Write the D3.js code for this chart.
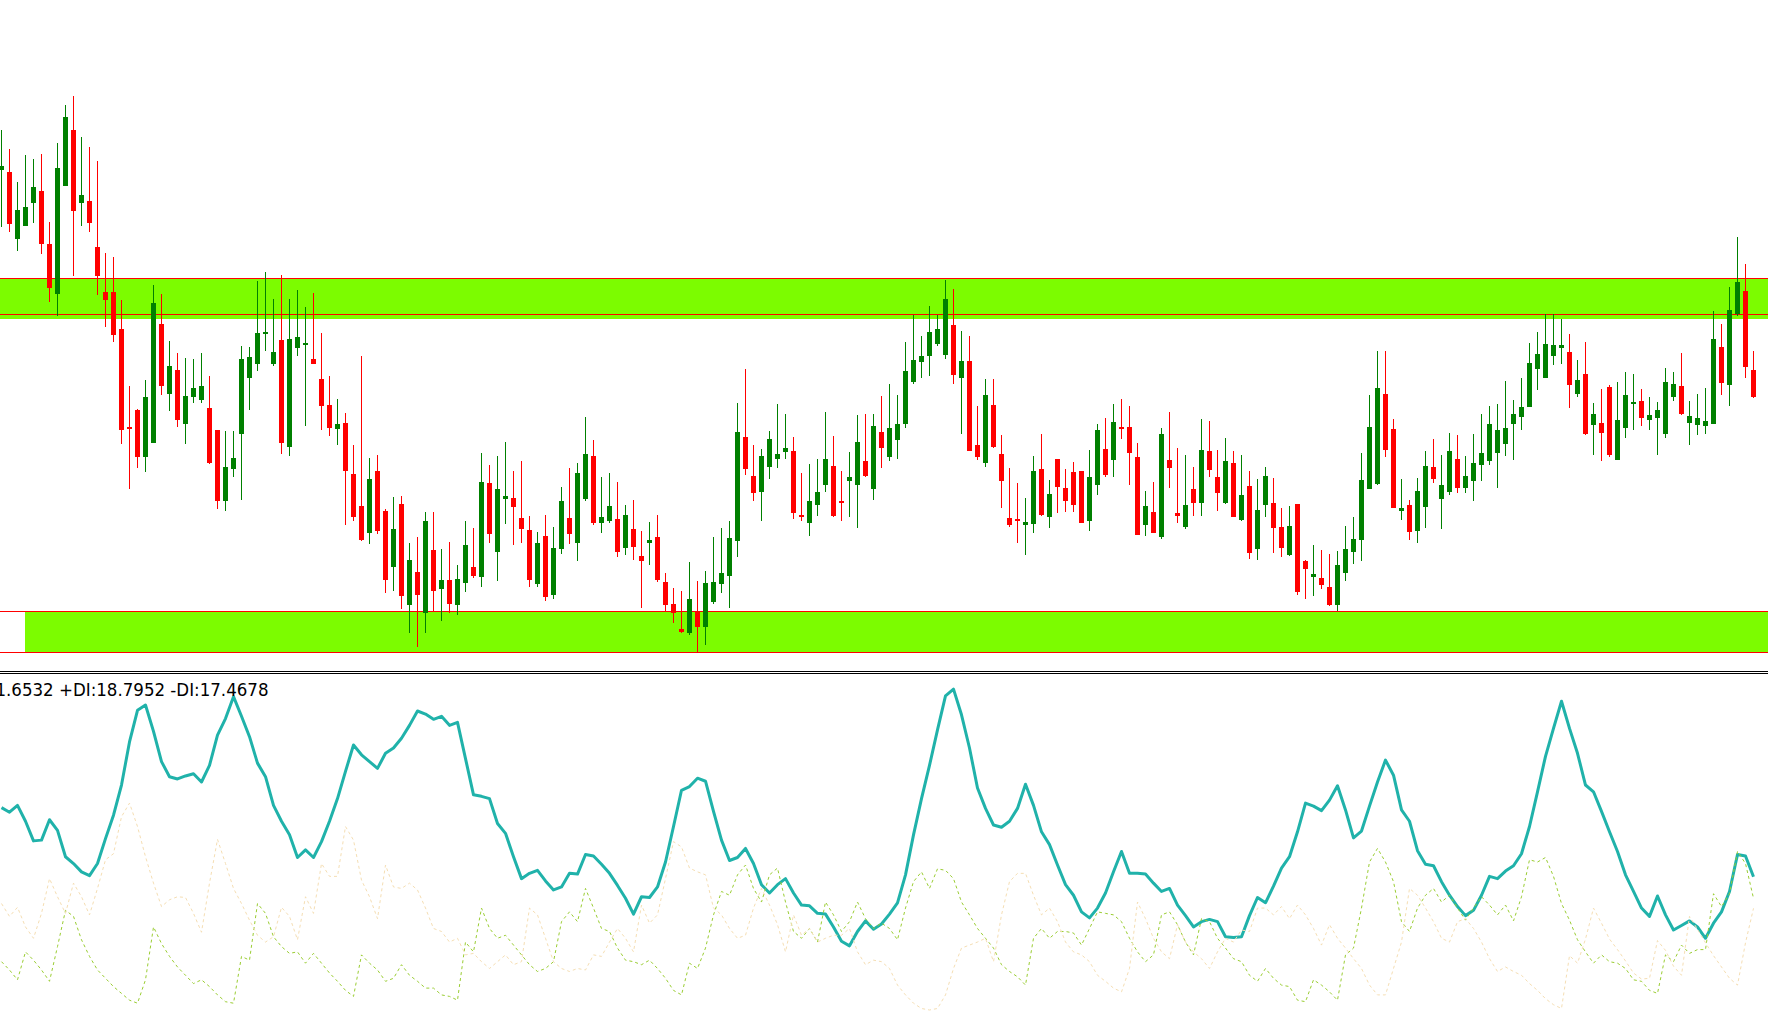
<!DOCTYPE html>
<html>
<head>
<meta charset="utf-8">
<script src="https://cdn.jsdelivr.net/npm/d3@7"></script>
<style>
html,body{margin:0;padding:0;background:#fff;overflow:hidden;}
svg{display:block;background:#fff;}
</style>
</head>
<body>
<svg id="myGraph" width="1768" height="1011"></svg>
<script>
// price in points (arbitrary base), one bar per entry
var openData = [1381,1374,1191,1227,1290,1322,1176,1040,1337,1490, 1290,1295,1168,1044,1044,943,672,720,589,630, 956,765,830,682,756,748,725,665,468,558, 655,809,847,930,845,912,619,891,900,860, 805,733,668,684,544,456,380,552,442,289, 461,182,274,160,335,228,252,182,245,288, 259,519,330,476,478,423,390,242,373,212, 338,423,355,476,593,410,415,420,341,392, 318,355,370,247,186,117,105,165,124,192, 240,264,358,645,538,495,564,586,605,607, 432,410,457,512,566,469,524,514,579,501, 659,591,638,682,798,853,867,900,872,954, 809,855,623,575,733,599,423,420,402,407, 557,424,585,505,549,552,415,514,612,583, 673,673,590,404,439,369,582,437,399,502, 465,607,535,465,574,418,511,336,459,464, 399,322,462,303,259,258,233,182,270,330, 363,503,517,764,667,443,458,388,454,563, 476,495,585,506,525,567,580,602,627,682, 701,729,833,809,867,891,879,765,819,679, 684,783,583,671,737,744,693,699,655,756, 786,685,679,677,682,893,789,984,1047,830];
var highData = [1490,1438,1347,1421,1410,1424,1237,1454,1559,1583, 1471,1443,1405,1152,1141,1022,786,722,802,1064, 1039,910,877,863,860,877,813,665,662,662, 896,893,1075,1099,1025,1091,1025,1050,1003,1042, 932,813,750,711,624,868,588,596,446,479, 483,354,370,439,439,338,357,292,414,395, 602,568,593,632,552,579,428,384,431,398, 508,560,574,700,637,535,546,522,459,472, 387,412,431,271,230,222,302,249,277,370, 395,414,739,833,623,612,662,736,709,645, 546,571,585,714,648,552,604,706,709,709, 758,791,761,907,982,923,1006,982,1078,1053, 937,923,731,805,805,651,560,519,478,593, 654,527,585,557,577,552,610,681,698,736, 750,731,629,497,522,670,714,615,596,563, 695,689,610,643,607,596,552,530,563,533, 451,456,462,306,349,335,324,332,401,425, 602,761,882,882,695,530,472,533,607,640, 596,657,651,593,654,709,731,736,799,747, 808,904,934,983,983,970,929,857,907,739, 777,788,797,824,819,777,755,742,835,824, 877,744,764,780,992,956,1058,1196,1121,882];
var lowData = [1224,1210,1158,1227,1235,1150,1018,979,1337,1087, 1227,1208,1037,949,908,627,501,561,550,630, 762,718,674,627,740,740,572,446,443,536, 473,721,827,883,842,600,594,867,677,845, 666,649,624,402,415,359,352,378,215,223, 171,107,67,107,165,138,160,155,220,257, 234,355,248,407,347,355,234,234,195,201, 324,352,305,470,402,382,410,316,322,308, 176,292,246,163,133,106,102,52,74,187, 215,176,314,542,470,413,531,560,586,421, 413,374,429,495,424,415,426,396,534,473, 561,580,586,671,790,809,814,895,861,792, 655,608,581,564,616,451,399,355,322,380, 429,396,435,440,440,410,388,487,536,536, 641,514,377,374,380,366,506,410,393,429, 429,536,443,462,424,415,311,308,424,325, 316,317,212,201,207,226,180,167,250,297, 305,501,514,591,451,418,363,355,396,520, 391,487,490,490,470,523,569,506,594,583, 665,729,775,809,844,847,725,756,652,596, 580,589,583,643,665,677,665,597,643,744, 707,624,652,654,682,762,732,979,808,754];
var closeData = [1391,1230,1270,1278,1333,1175,1054,1385,1526,1268, 1311,1235,1089,1021,927,666,668,591,755,1014, 787,841,693,758,780,786,574,468,563,588, 860,866,932,934,879,630,915,921,904,845, 732,671,681,553,424,363,530,388,253,392, 207,307,212,414,223,252,187,255,348,264, 522,378,502,483,454,391,253,354,204,340, 469,378,546,599,410,425,456,330,431,344, 303,362,253,182,160,109,200,124,244,247, 271,368,659,558,490,593,640,599,615,435, 426,469,494,585,429,465,535,632,537,676, 616,670,681,827,857,868,934,943,1025,817, 855,608,589,761,619,525,404,413,412,552, 432,489,509,470,459,410,535,665,542,687, 670,602,377,456,380,654,561,429,459,465, 610,555,490,579,426,486,327,445,538,396, 341,401,220,283,269,239,182,293,337,365, 527,673,780,611,451,450,385,497,566,531, 513,607,506,538,574,601,681,665,670,709, 728,849,874,901,899,899,789,802,655,709, 657,597,692,761,742,699,706,720,797,791, 710,703,698,689,915,795,995,1072,839,755];

// support / resistance zones (price points)
var zoneTop = [1082, 166];
var zoneLine = [983, 53];
var zoneFillBottom = [974, 53];

// ADX(14) buffers
var adxData = [30.8,30.2,31.1,29.0,26.4,26.5,29.2,27.8,24.3,23.4, 22.3,21.8,23.4,26.7,29.8,33.8,39.5,43.7,44.4,40.9, 36.9,34.9,34.6,35.0,35.3,34.2,36.4,40.4,42.6,45.5, 42.9,40.2,36.7,34.9,31.1,29.0,27.2,24.2,25.2,24.2, 26.3,29.0,32.0,35.6,39.1,37.8,36.9,36.0,38.0,38.7, 40.0,41.7,43.6,43.2,42.5,42.9,41.7,42.1,37.3,32.5, 32.3,32.0,28.7,27.4,24.3,21.4,22.1,22.5,21.1,19.9, 20.3,22.1,22.0,24.6,24.4,23.3,22.1,20.5,18.8,16.7, 19.0,18.9,20.3,23.6,28.3,33.1,33.6,34.7,34.3,30.3, 26.5,23.8,24.2,25.4,23.4,20.6,19.5,20.6,21.4,19.5, 17.9,17.8,16.8,16.7,15.0,13.1,12.5,14.4,15.8,14.7,
  15.4,16.7,18.2,21.9,27.2,32.0,36.4,41.1,45.6,46.5, 43.1,38.7,33.4,30.7,28.5,28.2,29.0,30.7,33.9,31.1, 27.6,25.9,23.2,20.6,19.2,17.0,16.2,17.5,19.5,22.3, 25.0,22.1,22.1,22.0,20.8,19.7,20.1,17.9,16.5,15.0, 15.7,16.0,15.7,13.7,13.6,13.7,16.5,18.9,18.2,20.4, 22.8,24.3,27.6,31.4,31.0,30.4,31.8,33.7,30.5,26.8, 27.7,31.0,34.2,37.1,35.1,30.5,29.0,25.1,23.3,23.1, 21.0,19.2,17.7,16.5,17.2,19.2,21.7,21.4,22.4,23.1, 24.7,28.3,32.9,37.6,41.3,44.9,41.3,38.0,33.8,32.9, 30.3,27.6,25.0,21.9,19.7,17.5,16.4,19.1,16.6,14.6, 15.2,15.8,15.0,13.5,15.5,17.0,19.7,24.6,24.4,21.6532];
var plusDiData = [10.4,9.3,8.0,11.7,10.6,9.3,7.8,12.4,17.2,16.4, 13.3,11.1,9.3,8.2,7.1,6.2,5.3,4.9,8.0,15.0, 12.8,11.1,9.7,8.6,7.5,8.0,7.1,6.0,5.1,4.9, 11.1,10.6,18.1,16.8,13.7,12.4,11.5,11.7,10.2,11.5, 10.2,8.9,7.8,6.6,5.8,11.3,10.2,9.3,7.8,8.2,
  10.0,8.6,7.8,6.9,6.9,6.0,5.8,5.3,13.0,11.7, 17.5,14.8,13.5,13.9,12.6,11.3,10.0,9.1,9.5,10.4, 15.7,17.0,15.7,20.1,17.5,14.8,14.4,12.2,10.6,10.4, 10.0,10.6,9.5,8.2,6.6,6.0,10.2,9.5,12.2,16.6, 19.7,19.2,21.9,23.2,20.1,18.3,21.9,22.8,18.3,14.4, 13.5,14.8,13.0,18.3,16.6,14.4,15.7,18.3,16.1,14.8,
  15.5,14.8,13.3,17.5,21.0,22.3,20.1,22.7,22.5,21.4, 18.3,16.6,14.8,13.5,12.2,10.0,9.1,8.4,7.3,13.5, 14.8,13.5,14.4,14.4,14.2,12.6,14.8,17.0,16.8,16.6, 15.7,13.5,11.7,10.4,11.3,16.6,17.0,15.3,13.0,11.3, 16.1,15.7,13.5,12.2,10.8,10.4,8.6,7.8,9.5,8.2, 7.3,7.1,5.3,5.1,8.0,7.3,6.4,5.3,11.3,12.2, 17.5,23.6,25.4,23.6,21.0,15.7,14.4,17.5,19.2,20.1, 18.3,19.2,17.5,15.9,17.5,19.0,17.9,16.6,
  17.9,15.8,19.0,23.9,23.6,24.2,21.7,18.1,15.9,13.3, 11.7,10.2,11.3,10.4,10.2,9.5,8.0,7.8,6.6,6.2, 11.3,10.4,12.6,11.5,12.0,12.0,19.4,17.7,19.4,25.0, 23.4,18.7952];
var minusDiData = [18.1,16.4,17.6,15.0,13.5,16.8,21.4,19.0,16.8,20.8, 19.0,16.6,20.1,23.9,24.7,29.6,31.4,28.3,24.3,20.8, 17.7,18.6,19.0,18.9,16.8,14.3,20.8,26.6,23.4,20.1, 18.1,15.9,13.9,13.0,13.7,17.6,16.4,13.3,19.0,16.8, 23.4,21.7,21.7,28.3,26.5,21.2,19.0,16.1,23.2,20.3,
  20.1,20.8,19.9,17.5,14.8,14.4,13.0,13.5,11.3,11.5, 10.4,9.5,10.4,11.3,10.0,10.4,17.5,16.6,13.5,10.4, 9.5,9.1,9.5,9.3,11.3,11.1,13.0,14.8,13.5,11.7, 17.9,15.5,16.6,21.4,26.3,25.6,22.8,22.3,21.9,17.5, 16.6,14.8,13.5,13.9,17.5,20.1,17.9,15.3,11.7,16.6, 13.9,14.8,13.0,13.5,13.9,13.9,14.8,11.7,10.0,10.6,
  10.4,9.5,7.3,6.0,4.9,4.2,4.0,4.2,6.0,9.5, 12.2,12.6,13.0,13.5,10.4,16.6,21.0,22.1,22.1,19.2, 16.6,17.5,15.7,13.0,11.7,11.3,10.4,8.6,7.8,6.9, 6.4,9.5,18.3,16.1,13.5,11.7,10.8,15.3,13.0,11.7, 10.8,9.5,11.7,13.5,13.0,14.6,14.4,17.5,17.5,16.6, 17.7,16.1,17.9,16.6,14.8,12.6,15.3,13.5,12.2,10.8, 9.5,7.3,6.0,6.0,9.5,13.0,20.1,19.2,17.5,15.7, 13.5,13.0,15.7,16.1,14.8,13.0,10.8,9.1,
  9.7,9.1,8.6,7.5,6.6,5.5,4.7,4.2,11.2,10.2, 13.4,17.5,15.5,13.4,12.0,10.5,8.9,8.1,8.2,13.2, 11.9,9.8,8.6,16.4,14.7,12.9,11.2,9.7,8.2,7.3, 12.9,17.4678];

window.addEventListener("load", function(){

	var svgWidth = 1768;
	var svgHeight = 1011;
	var svg = d3.select("#myGraph");

	var n = openData.length;
	var xScale = d3.scaleLinear().domain([0, n - 1]).range([1.5, 1.5 + 8 * (n - 1)]);	// 8px per bar
	var yPrice = d3.scaleLinear().domain([0, 1600]).range([671.6, 90]);
	var yInd = d3.scaleLinear().domain([0, 48]).range([1040.2, 677.8]);

	var bars = d3.range(n).map(function(i){
		return { i: i, o: openData[i], h: highData[i], l: lowData[i], c: closeData[i] };
	});

	// zones
	var zoneStart = [0, 25];
	var zones = svg.append("g").attr("shape-rendering", "crispEdges");
	zones.selectAll("rect.zone")
		.data(zoneTop)
		.enter()
		.append("rect")
		.attr("class", "zone")
		.attr("x", function(d, k){ return zoneStart[k]; })
		.attr("y", function(d){ return Math.floor(yPrice(d)); })
		.attr("width", function(d, k){ return svgWidth - zoneStart[k]; })
		.attr("height", function(d, k){ return Math.round(yPrice(zoneFillBottom[k])) - Math.floor(yPrice(d)) + 1; })
		.style("fill", "#7CFC00");

	var lineLevels = zoneTop.concat(zoneLine);
	zones.selectAll("line.level")
		.data(lineLevels)
		.enter()
		.append("line")
		.attr("class", "level")
		.attr("x1", 0).attr("x2", svgWidth)
		.attr("y1", function(d){ return Math.floor(yPrice(d)) + 0.5; })
		.attr("y2", function(d){ return Math.floor(yPrice(d)) + 0.5; })
		.style("stroke", "#FF0000")
		.style("stroke-width", 1);

	// candles
	var candle = svg.append("g")
		.attr("shape-rendering", "crispEdges")
		.selectAll("g")
		.data(bars)
		.enter()
		.append("g");

	candle.append("rect")	// wick
		.attr("x", function(d){ return Math.floor(xScale(d.i)); })
		.attr("y", function(d){ return Math.round(yPrice(d.h)); })
		.attr("width", 1)
		.attr("height", function(d){ return Math.max(1, Math.round(yPrice(d.l)) - Math.round(yPrice(d.h))); })
		.style("fill", function(d){ return d.c >= d.o ? "#008000" : "#FF0000"; });

	candle.append("rect")	// body
		.attr("x", function(d){ return Math.round(xScale(d.i) - 2.5); })
		.attr("y", function(d){ return Math.round(yPrice(Math.max(d.o, d.c))); })
		.attr("width", 5)
		.attr("height", function(d){
			return Math.max(2, Math.round(yPrice(Math.min(d.o, d.c))) - Math.round(yPrice(Math.max(d.o, d.c))));
		})
		.style("fill", function(d){ return d.c >= d.o ? "#008000" : "#FF0000"; });

	// window separator
	svg.selectAll("line.sep")
		.data([671.5, 673.5])
		.enter()
		.append("line")
		.attr("class", "sep")
		.attr("x1", 0).attr("x2", svgWidth)
		.attr("y1", function(d){ return d; }).attr("y2", function(d){ return d; })
		.style("stroke", "#000")
		.attr("shape-rendering", "crispEdges");

	// indicator window
	svg.append("clipPath").attr("id", "indClip")
		.append("rect").attr("x", 0).attr("y", 675).attr("width", svgWidth).attr("height", svgHeight - 675);

	var line = d3.line()
		.x(function(d, i){ return xScale(i); })
		.y(function(d){ return yInd(d); });

	var ind = svg.append("g").attr("clip-path", "url(#indClip)");

	ind.append("path")
		.attr("d", line(adxData))
		.style("fill", "none")
		.style("stroke", "#20B2AA")
		.style("stroke-width", 3)
		.style("stroke-linejoin", "round");

	ind.append("path")
		.attr("d", line(plusDiData))
		.style("fill", "none")
		.style("stroke", "#9ACD32")
		.style("stroke-width", 1)
		.style("stroke-dasharray", "3,3");

	ind.append("path")
		.attr("d", line(minusDiData))
		.style("fill", "none")
		.style("stroke", "#F5DEB3")
		.style("stroke-width", 1)
		.style("stroke-dasharray", "3,3");

	// indicator label (left part runs off the window)
	svg.append("text")
		.attr("x", 268.5)
		.attr("y", 695.5)
		.attr("text-anchor", "end")
		.style("font-family", "'DejaVu Sans Condensed', 'DejaVu Sans', sans-serif")
		.style("font-size", "18.5px")
		.style("fill", "#000")
		.text("ADX:" + d3.format(".4f")(adxData[n - 1]) + " +DI:" + d3.format(".4f")(plusDiData[n - 1]) + " -DI:" + d3.format(".4f")(minusDiData[n - 1]));

});
</script>
</body>
</html>
